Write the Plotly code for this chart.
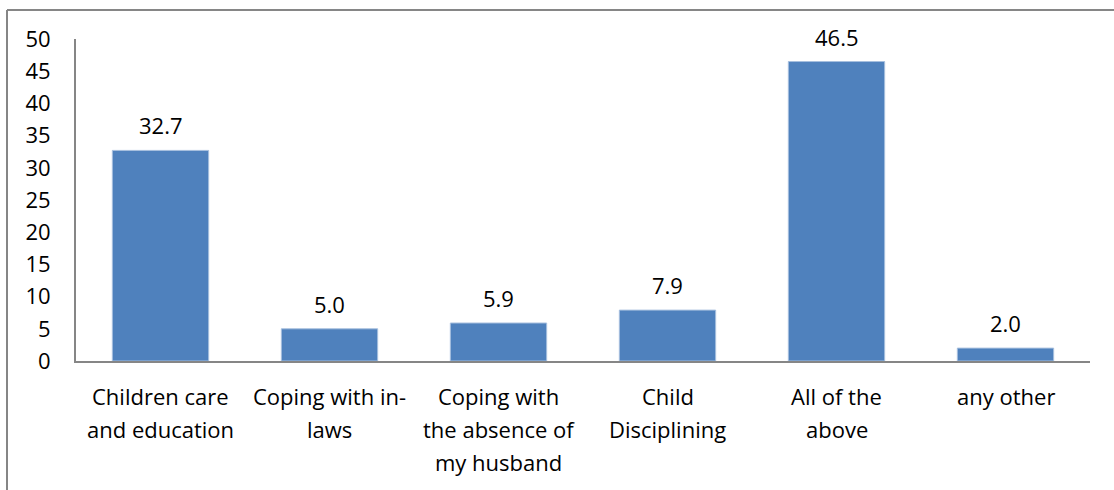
import plotly.graph_objects as go

# Survey responses (%)
categories = ["Children care and education", "Coping with in-laws",
              "Coping with the absence of my husband", "Child Disciplining",
              "All of the above", "any other"]
label_lines = [["Children care", "and education"],
               ["Coping with in-", "laws"],
               ["Coping with", "the absence of", "my husband"],
               ["Child", "Disciplining"],
               ["All of the", "above"],
               ["any other"]]
values = [32.7, 5.0, 5.9, 7.9, 46.5, 2.0]
y_ticks = [0, 5, 10, 15, 20, 25, 30, 35, 40, 45, 50]

FONT = "'Open Sans', 'Noto Sans', sans-serif"
FONT_SIZE = 22
AXIS_GREY = "#868686"

fig = go.Figure(go.Bar(
    x=categories, y=values, width=0.57,
    marker=dict(color="#4F81BD", line=dict(color="#A7BFDE", width=1)),
    hoverinfo="x+y",
))

annotations = []
# value labels above the bars
for c, v in zip(categories, values):
    annotations.append(dict(x=c, y=v, xref="x", yref="y", text=f"{v:.1f}",
                            showarrow=False, yanchor="middle", yshift=25,
                            font=dict(family=FONT, size=FONT_SIZE, color="#000")))
# wrapped category labels under the axis
for c, lines in zip(categories, label_lines):
    for i, line in enumerate(lines):
        annotations.append(dict(x=c, y=0, xref="x", yref="y", text=line,
                                showarrow=False, yanchor="middle",
                                yshift=-35 - 33 * i,
                                font=dict(family=FONT, size=FONT_SIZE, color="#000")))

fig.update_layout(
    width=1114, height=490,
    margin=dict(l=76, r=24, t=39, b=129),
    paper_bgcolor="white", plot_bgcolor="white",
    showlegend=False,
    bargap=0.43,
    annotations=annotations,
    xaxis=dict(showticklabels=False, showgrid=False, zeroline=False,
               showline=True, linecolor=AXIS_GREY, linewidth=2, ticks=""),
    yaxis=dict(range=[0, 50], tickvals=y_ticks, showgrid=False, zeroline=False,
               showline=True, linecolor=AXIS_GREY, linewidth=2, ticks="",
               ticklabelstandoff=19,
               tickfont=dict(family=FONT, size=FONT_SIZE, color="#000")),
    shapes=[
        # outer frame (top and left edges)
        dict(type="line", xref="paper", yref="paper",
             x0=-69 / 1014, x1=1114 / 1014, y0=(361 - 10) / 322, y1=(361 - 10) / 322,
             line=dict(color=AXIS_GREY, width=2)),
        dict(type="line", xref="paper", yref="paper",
             x0=-69 / 1014, x1=-69 / 1014, y0=(361 - 10) / 322, y1=-140 / 322,
             line=dict(color=AXIS_GREY, width=2)),
    ],
)

fig.write_html("out.html")
